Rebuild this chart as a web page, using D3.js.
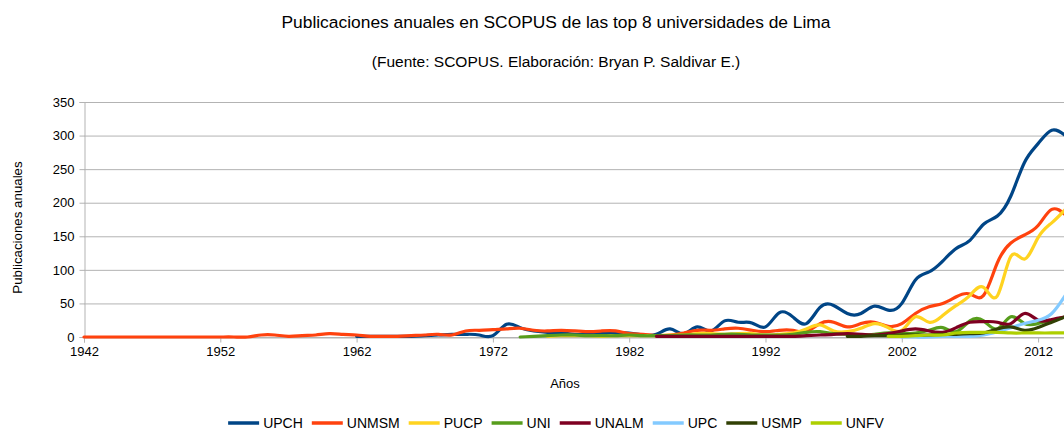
<!DOCTYPE html>
<html>
<head>
<meta charset="utf-8">
<script src="https://cdn.jsdelivr.net/npm/d3@7"></script>
<style>
  html, body { margin: 0; padding: 0; background: #fff; overflow: hidden; }
  svg { display: block; font-family: "Liberation Sans", Arial, sans-serif; }
</style>
</head>
<body>
<svg id="chart" width="1112" height="430"></svg>
<script>
// ---- data ----
const seriesNames = ["UPCH", "UNMSM", "PUCP", "UNI", "UNALM", "UPC", "USMP", "UNFV"];
const seriesColors = ["#004586", "#ff420e", "#ffd320", "#579d1c", "#7e0021", "#83caff", "#314004", "#aecf00"];
const startYears = [1962, 1942, 1976, 1974, 1984, 2002, 1998, 2001];

const UPCH = [1,1,1,1,1,2,3,4,4,3,2,19,14,9,7,6,4,4,6,6,6,3,4,12,5,15,9,24,22,21,15,36,30,20,44,47,35,35,46,40,50,85,97,113,132,144,168,180,210,260,288,308,300];
const UNMSM = [0,0,0,0,0,0,0,0,0,0,0,0,0,
  3,3,1,2,3,5,4,3,1,1,1,2,3,4,3,9,10,11,12,13,10,9,10,9,8,9,9,5,4,2,3,6,10,10,12,13,10,8,10,10,8,20,22,15,20,22,16,20,35,45,50,60,64,62,110,140,152,166,190,182];
const PUCP = [1,2,2,2,1,2,2,2,2,3,3,5,5,4,5,5,3,4,6,12,18,9,8,13,20,14,10,30,22,32,47,62,74,61,120,116,148,170,190];
const UNI = [0,1,2,3,3,2,2,2,3,2,2,2,3,3,3,4,4,3,3,3,4,7,8,5,4,3,4,6,5,6,10,14,8,24,24,12,30,20,20,25,30];
const UNALM = [1,1,1,1,1,1,1,1,1,1,1,2,3,4,5,4,3,5,9,12,9,7,14,22,23,22,20,35,25,26,30];
const UPC = [0,0,0,1,1,1,3,8,14,20,25,35,62];
const USMP = [1,1,2,2,3,3,3,4,4,5,6,12,15,10,14,22,30];
const UNFV = [1,1,2,3,3,6,7,7,7,6,6,6,6,6];
const seriesValues = [UPCH, UNMSM, PUCP, UNI, UNALM, UPC, USMP, UNFV];

const xTicks = [1942, 1952, 1962, 1972, 1982, 1992, 2002, 2012];
const yTicks = [0, 50, 100, 150, 200, 250, 300, 350];

const titleText = "Publicaciones anuales en SCOPUS de las top 8 universidades de Lima";
const subtitleText = "(Fuente: SCOPUS. Elaboración: Bryan P. Saldivar E.)";
const xTitle = "Años";
const yTitle = "Publicaciones anuales";

// ---- layout ----
const svg = d3.select("#chart");
const plotLeft = 84, plotTop = 102, plotBottom = 337;
const x = d3.scaleLinear().domain([1942, 2016]).range([plotLeft, plotLeft + 74 * 13.63]);
const y = d3.scaleLinear().domain([0, 350]).range([plotBottom, plotTop]);
const gridColor = "#b3b3b3";

// titles
svg.append("text").attr("x", 556).attr("y", 28).attr("text-anchor", "middle")
  .attr("font-size", 17.4).attr("fill", "#000").text(titleText);
svg.append("text").attr("x", 556).attr("y", 67).attr("text-anchor", "middle")
  .attr("font-size", 15.5).attr("fill", "#000").text(subtitleText);

// grid
svg.append("g").selectAll("line").data(yTicks).join("line")
  .attr("x1", plotLeft).attr("x2", x(2016))
  .attr("y1", d => y(d) + 0.5).attr("y2", d => y(d) + 0.5)
  .attr("stroke", gridColor).attr("stroke-width", 1);

// y axis
const yAxis = svg.append("g").attr("transform", `translate(${plotLeft + 0.5},0)`)
  .call(d3.axisLeft(y).tickValues(yTicks).tickSize(5).tickPadding(5));
yAxis.select(".domain").attr("stroke", gridColor);
yAxis.selectAll(".tick line").attr("stroke", gridColor);
yAxis.selectAll(".tick text").attr("font-size", 13).attr("fill", "#000")
  .attr("font-family", "Liberation Sans, Arial, sans-serif");

// x axis
const xAxis = svg.append("g").attr("transform", `translate(0,${plotBottom + 0.5})`)
  .call(d3.axisBottom(x).tickValues(xTicks).tickFormat(d3.format("d")).tickSize(5).tickPadding(4));
xAxis.select(".domain").attr("stroke", gridColor);
xAxis.selectAll(".tick line").attr("stroke", gridColor);
xAxis.selectAll(".tick text").attr("font-size", 13).attr("fill", "#000")
  .attr("font-family", "Liberation Sans, Arial, sans-serif");

// axis titles
svg.append("text").attr("x", 565).attr("y", 388).attr("text-anchor", "middle")
  .attr("font-size", 13).attr("fill", "#000").text(xTitle);
svg.append("text").attr("transform", `translate(22,${(plotTop + plotBottom) / 2 + 8}) rotate(-90)`)
  .attr("text-anchor", "middle").attr("font-size", 13.3).attr("fill", "#000").text(yTitle);

// lines
const line = d3.line().x(d => x(d[0])).y(d => y(d[1])).curve(d3.curveNatural);
const lineG = svg.append("g");
seriesNames.forEach((name, i) => {
  const pts = seriesValues[i].map((v, k) => [startYears[i] + k, v]);
  lineG.append("path").datum(pts)
    .attr("d", line)
    .attr("fill", "none")
    .attr("stroke", seriesColors[i])
    .attr("stroke-width", 3.2)
    .attr("stroke-linejoin", "round")
    .attr("stroke-linecap", "round");
});

// legend
const legend = svg.append("g");
const symW = 31, gapSym = 4, gapItem = 9, legY = 423;
const items = [];
seriesNames.forEach((name, i) => {
  const g = legend.append("g");
  g.append("line").attr("x1", 0).attr("x2", symW).attr("y1", 0).attr("y2", 0)
    .attr("stroke", seriesColors[i]).attr("stroke-width", 3.5);
  const t = g.append("text").attr("x", symW + gapSym).attr("y", 5)
    .attr("font-size", 14).attr("fill", "#000").text(name);
  const tw = t.node().getComputedTextLength();
  items.push({ g, w: symW + gapSym + tw });
});
const totalW = d3.sum(items, d => d.w) + gapItem * (items.length - 1);
let cx = 556 - totalW / 2;
items.forEach(it => {
  it.g.attr("transform", `translate(${cx},${legY})`);
  cx += it.w + gapItem;
});
</script>
</body>
</html>
